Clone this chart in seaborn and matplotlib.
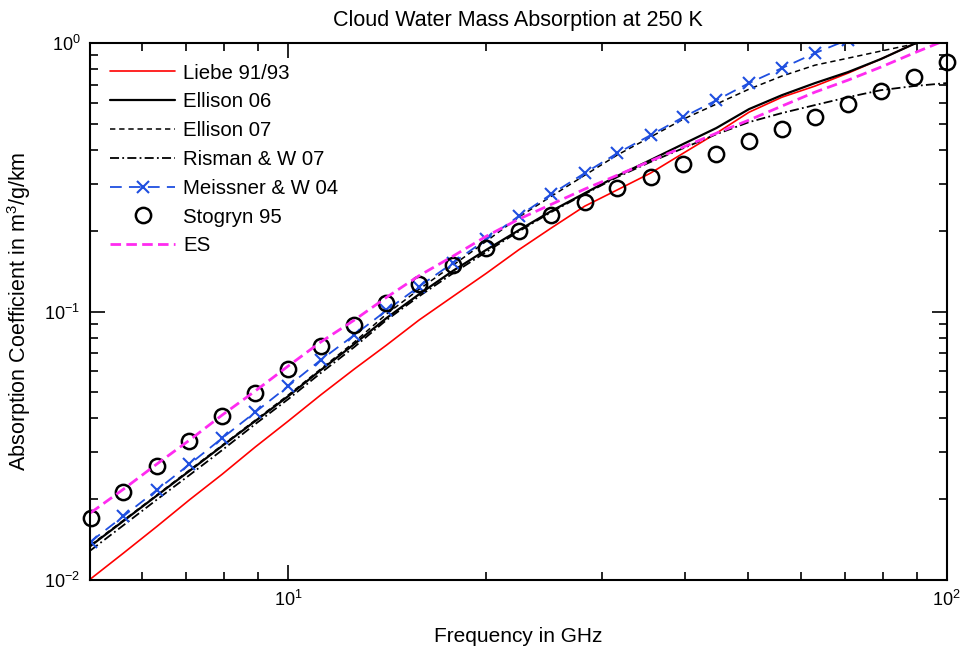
import numpy as np
import pandas as pd
import matplotlib
matplotlib.use("Agg")
import matplotlib.pyplot as plt
import seaborn as sns

# Data (frequency in GHz, absorption in m^3/g/km)

freq = [5.01, 5.62, 6.31, 7.08, 7.94, 8.91, 10.0, 11.2, 12.6, 14.1, 15.8, 17.8, 20.0,
        22.4, 25.1, 28.2, 31.6, 35.5, 39.8, 44.7, 50.1, 56.2, 63.1, 70.8, 79.4, 89.1, 100.0]

liebe = [0.0101, 0.0126, 0.0158, 0.0199, 0.0248, 0.0313, 0.0391, 0.0489, 0.0611, 0.0750,
         0.0930, 0.114, 0.139, 0.170, 0.205, 0.247, 0.284, 0.328, 0.389, 0.462, 0.553,
         0.629, 0.692, 0.773, 0.872, 0.992, 1.12]

ellison06 = [0.0134, 0.0166, 0.0206, 0.0255, 0.0316, 0.0391, 0.0484, 0.0605, 0.0757, 0.0946,
             0.116, 0.142, 0.170, 0.201, 0.237, 0.276, 0.320, 0.367, 0.421, 0.483, 0.568,
             0.640, 0.710, 0.780, 0.872, 0.992, 1.12]

ellison07 = [0.0135, 0.0167, 0.0207, 0.0257, 0.0318, 0.0394, 0.0489, 0.0611, 0.0770, 0.0979,
             0.121, 0.149, 0.183, 0.225, 0.269, 0.322, 0.383, 0.447, 0.521, 0.593, 0.674,
             0.754, 0.828, 0.879, 0.934, 0.992, 1.05]

risman = [0.0129, 0.0160, 0.0199, 0.0246, 0.0305, 0.0381, 0.0472, 0.0590, 0.0738, 0.0930,
          0.114, 0.139, 0.167, 0.199, 0.235, 0.274, 0.317, 0.361, 0.406, 0.458, 0.508,
          0.549, 0.588, 0.629, 0.668, 0.692, 0.710]

meissner = [0.0139, 0.0173, 0.0216, 0.0270, 0.0338, 0.0422, 0.0528, 0.0660, 0.0818, 0.101,
            0.124, 0.152, 0.186, 0.227, 0.274, 0.328, 0.389, 0.454, 0.530, 0.613, 0.710,
            0.807, 0.918, 1.03, 1.17, 1.30, 1.45]

stogryn = [0.0170, 0.0213, 0.0266, 0.0330, 0.0408, 0.0497, 0.0611, 0.0744, 0.0891, 0.108,
           0.127, 0.149, 0.172, 0.200, 0.229, 0.256, 0.288, 0.317, 0.354, 0.386, 0.432,
           0.478, 0.530, 0.593, 0.663, 0.747, 0.849]

es = [0.0178, 0.0218, 0.0270, 0.0332, 0.0412, 0.0506, 0.0627, 0.0770, 0.0930, 0.113,
      0.136, 0.161, 0.191, 0.221, 0.251, 0.286, 0.322, 0.364, 0.410, 0.462, 0.517,
      0.583, 0.657, 0.728, 0.814, 0.918, 1.03]

df = pd.DataFrame({
    "freq": freq,
    "Liebe 91/93": liebe,
    "Ellison 06": ellison06,
    "Ellison 07": ellison07,
    "Risman & W 07": risman,
    "Meissner & W 04": meissner,
    "Stogryn 95": stogryn,
    "ES": es,
})

# Style

sns.set_style("white")
plt.rcParams["font.family"] = ["Liberation Sans", "DejaVu Sans"]
plt.rcParams["mathtext.default"] = "regular"
plt.rcParams["axes.linewidth"] = 1.5
plt.rcParams["axes.edgecolor"] = "black"
plt.rcParams["text.color"] = "black"
plt.rcParams["axes.labelcolor"] = "black"
plt.rcParams["xtick.color"] = "black"
plt.rcParams["ytick.color"] = "black"

fig = plt.figure(figsize=(9.64, 6.54), dpi=100)
ax = fig.add_axes([0.0934, 0.1131, 0.8886, 0.8209])

blue = "#1f4fe0"

# Curves

sns.lineplot(data=df, x="freq", y="Liebe 91/93", ax=ax, color="red", lw=1.2,
             label="Liebe 91/93")
sns.lineplot(data=df, x="freq", y="Ellison 06", ax=ax, color="black", lw=1.6,
             label="Ellison 06")
sns.lineplot(data=df, x="freq", y="Ellison 07", ax=ax, color="black", lw=1.1,
             linestyle=(0, (3.5, 2.5)), label="Ellison 07")
sns.lineplot(data=df, x="freq", y="Risman & W 07", ax=ax, color="black", lw=1.3,
             linestyle=(0, (5, 1.8, 1, 1.8)), label="Risman & W 07")
sns.lineplot(data=df, x="freq", y="Meissner & W 04", ax=ax, color=blue, lw=1.3,
             linestyle=(0, (6.5, 4)), marker="x", markersize=8.5, markeredgewidth=1.5,
             markeredgecolor=blue, label="Meissner & W 04")
sns.lineplot(data=df, x="freq", y="Stogryn 95", ax=ax, color="black", linestyle="none",
             marker="o", markersize=11, markerfacecolor="none", markeredgecolor="black",
             markeredgewidth=1.8, clip_on=False, label="Stogryn 95")
sns.lineplot(data=df, x="freq", y="ES", ax=ax, color="#ff2bf0", lw=2,
             linestyle=(0, (3.8, 1.9)), label="ES")

# Axes

ax.set_xscale("log")
ax.set_yscale("log")
ax.set_xlim(5, 100)
ax.set_ylim(0.01, 1)

ax.tick_params(which="major", direction="in", length=11, width=1.2, bottom=True, left=True,
               top=True, right=True, labelsize=13, pad=7)
ax.tick_params(which="minor", direction="in", length=5.5, width=1.2, bottom=True, left=True,
               top=True, right=True)

ax.set_title("Cloud Water Mass Absorption at 250 K", fontsize=15.5, pad=12)
ax.set_xlabel("Frequency in GHz", fontsize=15, labelpad=12)
ax.set_ylabel("Absorption Coefficient in m$^3$/g/km", fontsize=15.5, labelpad=8)

ax.legend(loc="upper left", frameon=False, fontsize=14.7, handlelength=3.15,
          handletextpad=0.4, labelspacing=0.48, borderaxespad=0.6, numpoints=1)

fig.savefig("out.png", dpi=100)
